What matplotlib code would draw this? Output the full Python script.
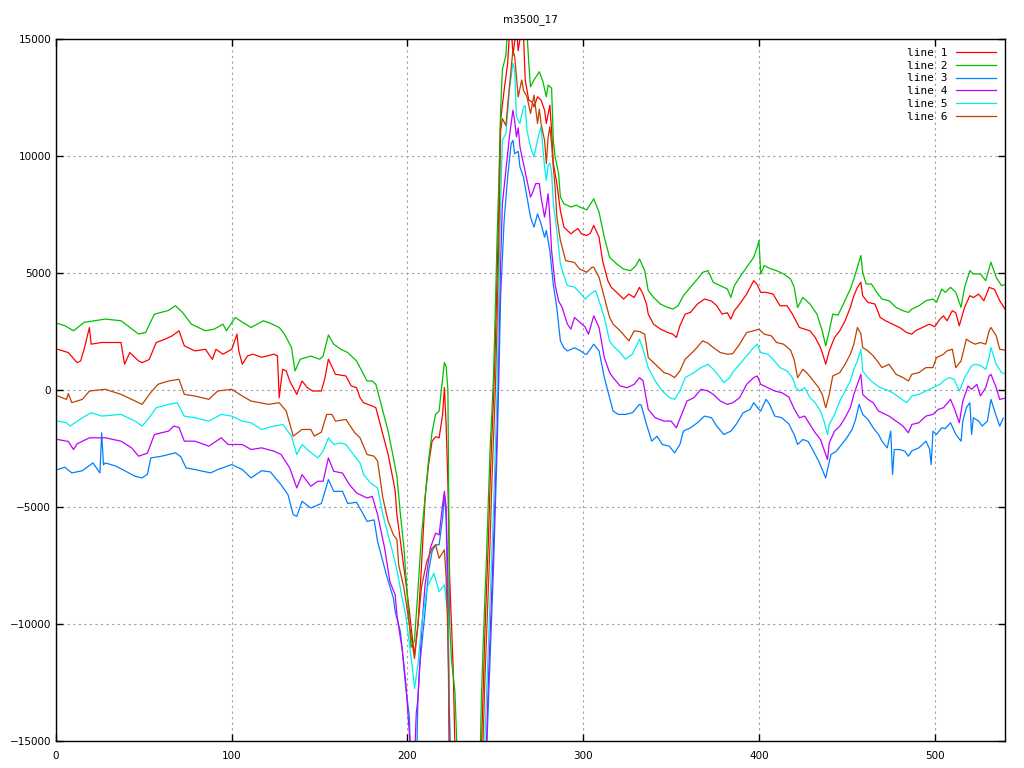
import numpy as np
import matplotlib
matplotlib.use('Agg')
import matplotlib.pyplot as plt

title = 'm3500_17'
labels = ['line 1', 'line 2', 'line 3', 'line 4', 'line 5', 'line 6']
colors = ['#ff0000', '#00c000', '#0080ff', '#c000ff', '#00eeee', '#c04000']

# (x, value) pairs; values below -15000 are off the plot
line1 = [(1,1740),(7,1600),(12,1170),(14,1240),(16,1740),(19,2670),(20,1960),(26,2030),(37,2030),
         (39,1100),(42,1600),(47,1240),(49,1170),(53,1300),(57,2030),(62,2170),(66,2310),(70,2530),
         (73,1890),(79,1670),(85,1740),(89,1310),(91,1740),(95,1530),(100,1740),(103,2390),(104,1670),
         (106,1100),(109,1457),(112,1530),(117,1400),(124,1530),(126,1460),(127,-329),(128,300),(129,886),
         (131,815),(133,385),(137,-186),(140,385),(143,100),(146,-43),(151,-43),(153,500),(155,1315),
         (157,1000),(159,672),(165,600),(168,172),(171,100),(173,-329),(175,-543),(180,-686),(182,-757),
         (185,-1615),(189,-2758),(192,-3900),(193,-4330),(194,-5330),(197,-7045),(199,-8190),(201,-9400),
         (203,-10760),(204,-11330),(206,-10000),(208,-7475),(210,-4615),(212,-3186),(214,-2186),(216,-2000),
         (218,-2043),(220,-1043),(221,100),(222,-1500),(223,-4000),(224,-8000),(225,-10000),(226,-11900),
         (227,-15300),(228,-17000),(241,-17000),(242,-15500),(243,-13000),(244,-10500),(245,-8500),
         (246,-6500),(247,-4000),(248,-2000),(249,-300),(250,2000),(251,5000),(252,8000),(253,11530),
         (255,12820),(257,13960),(258,15200),(259,15600),(260,14300),(262,15500),(263,14500),(265,15500),
         (266,15200),(267,13250),(269,12390),(271,12300),(272,12100),(274,12530),(276,12390),(278,11960),
         (279,11390),(281,12175),(282,11100),(283,9675),(285,8820),(287,7670),(289,6960),(291,6816),
         (293,6673),(295,6800),(297,6900),(299,6673),(302,6600),(304,6700),(306,7030),(309,6530),(311,5530),
         (314,4673),(316,4387),(319,4173),(323,3887),(326,4100),(329,3950),(332,4387),(334,4100),(336,3673),
         (337,3244),(340,2815),(344,2600),(348,2460),(351,2386),(353,2244),(355,2744),(358,3244),(361,3315),
         (365,3673),(369,3887),(373,3800),(376,3600),(379,3244),(382,3300),(384,3030),(386,3387),(389,3673),
         (393,4100),(397,4673),(399,4500),(401,4173),(404,4173),(408,4100),(412,3600),(416,3600),(419,3250),
         (423,2672),(426,2600),(429,2530),(432,2244),(435,1815),(436,1600),(438,1100),(440,1672),(443,2244),
         (446,2530),(449,2958),(452,3530),(454,4030),(456,4387),(458,4601),(459,4030),(462,3744),(466,3673),
         (469,3100),(472,2958),(476,2815),(480,2672),(484,2458),(487,2386),(489,2530),(493,2672),(497,2815),
         (500,2700),(503,3030),(505,3172),(507,2958),(510,3387),(512,3300),(514,2744),(517,3530),(520,4030),
         (522,3950),(525,4100),(528,3815),(531,4387),(534,4300),(537,3815),(540,3458)]

line2 = [(1,2840),(5,2750),(10,2530),(16,2890),(28,3030),(37,2960),(47,2390),(51,2460),(56,3240),
         (64,3400),(68,3600),(72,3315),(77,2815),(85,2530),(90,2600),(95,2815),(97,2530),(102,3100),
         (106,2900),(111,2670),(118,2960),(122,2850),(127,2670),(130,2390),(134,1815),(136,815),(139,1315),
         (145,1450),(150,1315),(152,1450),(155,2350),(158,1960),(162,1745),(166,1600),(171,1245),(173,958),
         (177,385),(180,385),(182,243),(185,-614),(189,-1758),(192,-2900),(194,-3700),(196,-5330),
         (198,-6760),(200,-8900),(202,-11000),(204,-10700),(206,-8500),(208,-6200),(210,-4600),(212,-3000),
         (214,-1800),(216,-1043),(218,-900),(219,-186),(221,1172),(222,1000),(223,0),(224,-10000),
         (225,-11500),(227,-12900),(228,-15050),(229,-17000),(241,-17000),(242,-13300),(243,-11000),
         (244,-9000),(245,-7000),(246,-4800),(247,-2500),(248,-1000),(249,700),(250,3500),(251,6500),
         (252,9000),(253,12000),(254,13700),(256,14300),(257,15500),(260,16500),(263,15800),(266,16000),
         (268,15300),(269,14000),(270,12960),(272,13250),(275,13600),(277,13200),(279,12530),(280,13030),
         (282,12900),(283,10670),(284,9960),(286,9250),(287,8245),(289,7960),(293,7820),(296,7900),
         (298,7820),(302,7700),(306,8170),(309,7600),(312,6530),(314,5960),(315,5670),(319,5390),(323,5170),
         (327,5100),(330,5315),(332,5600),(335,5100),(337,4245),(340,3960),(344,3670),(348,3530),(351,3460),
         (354,3600),(357,4030),(361,4390),(365,4745),(368,5030),(371,5100),(374,4600),(378,4460),(382,4315),
         (384,3960),(386,4460),(389,4815),(393,5245),(397,5670),(399,6100),(400,6390),(401,4960),(403,5315),
         (406,5200),(410,5100),(414,4960),(418,4745),(420,4400),(422,3530),(425,3958),(429,3673),(433,3244),
         (436,2530),(438,1886),(440,2530),(442,3244),(445,3200),(448,3673),(452,4316),(454,4744),(456,5245),
         (458,5745),(459,5030),(461,4530),(464,4530),(467,4173),(470,3887),(474,3815),(478,3530),(482,3387),
         (485,3315),(487,3458),(491,3600),(495,3815),(499,3887),(501,3750),(504,4316),(506,4173),(509,4387),
         (512,4173),(515,3530),(517,4387),(520,5100),(522,4958),(526,4958),(529,4673),(532,5459),(535,4816),
         (538,4459),(540,4500)]

line3 = [(1,-3400),(5,-3300),(9,-3543),(15,-3450),(21,-3115),(25,-3543),(26,-1829),(27,-3200),
         (28,-3115),(34,-3250),(39,-3450),(45,-3686),(49,-3758),(52,-3600),(54,-2900),(60,-2830),
         (64,-2758),(68,-2686),(71,-2850),(74,-3329),(79,-3400),(88,-3543),(92,-3400),(100,-3186),
         (106,-3400),(111,-3758),(117,-3450),(122,-3500),(128,-4044),(132,-4472),(135,-5330),(137,-5400),
         (140,-4758),(145,-5044),(151,-4850),(155,-3829),(158,-4330),(163,-4330),(166,-4850),(171,-4800),
         (175,-5330),(177,-5615),(181,-5550),(183,-6473),(188,-7900),(192,-8900),(193,-9475),(196,-10330),
         (199,-12700),(201,-13900),(202,-16000),(205,-16500),(206,-13000),(207,-11760),(210,-9475),
         (212,-7760),(214,-6900),(216,-6615),(218,-6615),(220,-5470),(221,-4470),(222,-5470),(223,-10000),
         (224,-17000),(244,-17000),(245,-15500),(246,-13500),(247,-11500),(248,-9500),(249,-7500),
         (250,-5000),(251,-2500),(252,500),(253,4000),(255,7245),(257,9100),(259,10530),(260,10670),
         (261,10100),(263,10200),(264,9530),(266,9100),(268,8245),(270,7390),(272,6960),(274,7530),
         (276,7100),(278,6530),(279,6816),(281,5960),(283,4500),(285,3500),(287,2100),(289,1800),(291,1670),
         (295,1800),(298,1700),(301,1530),(302,1530),(306,1958),(309,1672),(312,529),(315,-329),(317,-900),
         (320,-1043),(324,-1043),(328,-972),(332,-614),(333,-650),(336,-1472),(339,-2186),(342,-1972),
         (345,-2329),(349,-2400),(352,-2686),(355,-2329),(357,-1758),(361,-1615),(365,-1400),(369,-1115),
         (373,-1186),(376,-1543),(380,-1900),(384,-1758),(387,-1472),(391,-972),(395,-829),(397,-543),
         (400,-829),(401,-900),(404,-400),(406,-600),(409,-1115),(413,-1186),(417,-1450),(419,-1758),
         (420,-1900),(422,-2329),(423,-2258),(425,-2115),(428,-2200),(431,-2615),(434,-3044),(436,-3401),
         (438,-3758),(439,-3401),(441,-2758),(444,-2615),(447,-2329),(450,-2043),(453,-1686),(455,-1258),
         (457,-614),(459,-1043),(462,-1258),(465,-1615),(468,-1900),(470,-2186),(473,-2472),(475,-1758),
         (476,-3615),(477,-2543),(480,-2543),(483,-2615),(485,-2829),(487,-2600),(491,-2472),(495,-2186),
         (497,-2500),(498,-3186),(499,-1758),(501,-1900),(504,-1615),(506,-1650),(509,-1400),(512,-1900),
         (515,-2186),(516,-1329),(518,-757),(520,-543),(521,-1900),(522,-1186),(525,-1329),(527,-1543),
         (530,-1329),(532,-400),(535,-1115),(537,-1543),(539,-1200)]

line4 = [(1,-2115),(7,-2200),(10,-2543),(12,-2300),(19,-2043),(28,-2043),(37,-2186),(43,-2472),
         (47,-2829),(52,-2700),(56,-1900),(64,-1757),(67,-1543),(70,-1600),(73,-2186),(79,-2186),
         (87,-2400),(94,-2043),(98,-2329),(106,-2329),(111,-2543),(117,-2472),(124,-2615),(128,-2750),
         (133,-3329),(137,-4186),(140,-3615),(145,-4115),(149,-3900),(152,-3900),(155,-2900),(158,-3472),
         (163,-3550),(167,-4044),(171,-4400),(175,-4544),(177,-4615),(180,-4544),(183,-5330),(187,-6760),
         (190,-8190),(193,-8760),(194,-9620),(196,-10620),(197,-11050),(199,-12475),(201,-14620),
         (202,-15500),(204,-15800),(205,-13800),(206,-13190),(208,-10330),(210,-8330),(213,-6760),
         (216,-6115),(218,-6190),(220,-4900),(221,-4330),(222,-5000),(223,-8000),(224,-17000),(244,-17000),
         (245,-15000),(246,-12500),(247,-10500),(248,-8500),(249,-6500),(250,-4000),(251,-1500),(252,2000),
         (253,5500),(254,7960),(256,9390),(258,10820),(260,11960),(261,11500),(262,10820),(263,11200),
         (264,10390),(266,9675),(268,8960),(270,8245),(271,8400),(273,8820),(275,8820),(276,8245),(278,7390),
         (279,7820),(280,8390),(281,7400),(282,5960),(284,4500),(286,3800),(288,3530),(291,2815),(293,2600),
         (295,3100),(298,2900),(301,2700),(303,2386),(306,3170),(309,2672),(312,1386),(315,743),(317,529),
         (321,171),(325,100),(329,243),(332,529),(334,400),(337,-829),(341,-1186),(346,-1329),(350,-1329),
         (353,-1615),(356,-1043),(359,-472),(363,-329),(367,29),(371,-43),(374,-186),(378,-472),(382,-614),
         (385,-550),(389,-329),(393,243),(397,529),(399,600),(401,243),(405,100),(409,-43),(413,-114),
         (417,-300),(420,-800),(423,-1186),(426,-1115),(429,-1472),(432,-1829),(435,-2115),(437,-2543),
         (439,-2972),(440,-2258),(443,-1758),(446,-1543),(449,-1186),(452,-757),(454,-186),(456,243),
         (458,672),(459,-186),(462,-400),(465,-543),(468,-900),(470,-972),(474,-1115),(478,-1329),
         (482,-1543),(485,-1829),(487,-1472),(491,-1400),(495,-1115),(499,-1043),(502,-829),(505,-757),
         (509,-400),(511,-757),(514,-1400),(516,-472),(519,172),(521,29),(524,243),(526,-257),(529,100),
         (531,600),(532,672),(535,100),(537,-400),(540,-350)]

line5 = [(1,-1329),(6,-1400),(8,-1543),(15,-1186),(20,-970),(26,-1115),(37,-1043),(45,-1329),
         (49,-1543),(53,-1186),(57,-757),(64,-614),(69,-543),(73,-1115),(79,-1186),(87,-1329),(94,-1043),
         (100,-1115),(106,-1329),(111,-1400),(117,-1686),(124,-1543),(129,-1470),(134,-1972),(137,-2758),
         (140,-2329),(144,-2615),(149,-2900),(152,-2615),(155,-2043),(158,-2329),(162,-2260),(165,-2329),
         (170,-2829),(173,-3115),(175,-3615),(179,-3972),(183,-4186),(186,-5330),(191,-6760),(194,-7700),
         (197,-8900),(199,-9620),(201,-10800),(203,-12000),(204,-12760),(206,-11700),(208,-10050),
         (211,-8475),(215,-7830),(218,-8620),(221,-8330),(223,-9620),(224,-14000),(225,-17000),(243,-17000),
         (244,-15000),(245,-13000),(246,-11000),(247,-9000),(248,-7000),(249,-5000),(250,-2500),(251,0),
         (252,4000),(253,8000),(254,10670),(256,10960),(258,12820),(260,13960),(261,13700),(262,11675),
         (264,11390),(266,12100),(267,12150),(268,11100),(270,10390),(272,9960),(274,10700),(276,11245),
         (278,9530),(279,8960),(280,9600),(281,9700),(282,9300),(283,7960),(285,6816),(287,5390),(289,4890),
         (291,4460),(295,4400),(298,4170),(301,3887),(302,3960),(304,4100),(307,4245),(309,3815),(312,3100),
         (315,2100),(317,1886),(321,1600),(324,1315),(328,1530),(332,2172),(334,1743),(337,957),(341,386),
         (345,-43),(349,-329),(352,-400),(355,-43),(358,529),(363,743),(367,957),(371,1100),(374,886),
         (378,529),(380,314),(383,500),(385,743),(389,1100),(393,1458),(397,1815),(399,1958),(401,1600),
         (405,1530),(408,1315),(412,957),(416,815),(419,529),(421,100),(423,-43),(426,100),(429,-329),
         (432,-543),(435,-900),(437,-1329),(439,-1900),(440,-1472),(443,-1043),(446,-472),(449,-43),
         (452,386),(454,886),(456,1243),(458,1743),(459,815),(462,529),(465,314),(469,100),(472,29),
         (476,-114),(480,-329),(484,-543),(487,-257),(491,-186),(495,-43),(499,100),(503,243),(505,386),
         (508,529),(511,457),(514,-43),(517,529),(521,1029),(523,1100),(526,1050),(529,886),(531,1386),
         (532,1815),(535,1100),(538,743),(540,700)]

line6 = [(1,-257),(6,-400),(7,-150),(9,-540),(15,-400),(19,-43),(28,30),(37,-186),(43,-400),(49,-614),
         (54,-100),(58,243),(64,385),(70,457),(73,-186),(79,-257),(87,-400),(92,-43),(100,30),(106,-257),
         (111,-472),(121,-614),(127,-543),(131,-900),(135,-1972),(140,-1686),(145,-1686),(147,-1972),
         (151,-1800),(154,-1043),(157,-1043),(159,-1329),(165,-1258),(170,-1829),(173,-2043),(177,-2758),
         (181,-2829),(183,-3044),(186,-4615),(189,-5615),(192,-6190),(194,-6400),(195,-7475),(198,-8475),
         (201,-10000),(203,-11000),(204,-11475),(206,-10000),(208,-8400),(211,-7330),(214,-6760),
         (216,-6615),(218,-7190),(221,-6830),(222,-8045),(223,-10500),(224,-14500),(225,-17000),
         (242,-17000),(243,-15000),(244,-12500),(245,-10500),(246,-8500),(247,-6500),(248,-4000),
         (249,-2000),(250,0),(251,3000),(252,6500),(253,11100),(254,11600),(256,11300),(258,12960),
         (260,14530),(261,14250),(263,12530),(265,13250),(266,12800),(268,12530),(270,11820),(272,12600),
         (274,11390),(275,12000),(276,11390),(278,10670),(279,9675),(280,10800),(281,11250),(282,10500),
         (283,9500),(284,8670),(285,7390),(287,6390),(290,5530),(295,5450),(298,5170),(302,5030),
         (305,5245),(306,5245),(309,4815),(312,3960),(315,3100),(317,2815),(321,2530),(326,2100),(329,2530),
         (332,2500),(335,2386),(337,1386),(341,1100),(346,743),(349,672),(352,530),(355,815),(358,1315),
         (363,1672),(368,2100),(371,2000),(374,1815),(378,1600),(382,1530),(385,1550),(389,1958),(393,2458),
         (397,2530),(400,2600),(403,2386),(407,2315),(410,2030),(414,1958),(418,1700),(420,1300),(422,529),
         (425,886),(428,672),(431,386),(434,100),(436,-186),(438,-757),(440,-186),(442,600),(446,743),
         (449,1100),(452,1529),(454,1958),(456,2672),(458,2400),(459,1815),(462,1672),(465,1458),(468,1172),
         (470,957),(474,1100),(478,672),(482,529),(485,386),(487,672),(491,743),(495,957),(499,957),
         (501,1386),(505,1529),(507,1672),(510,1743),(512,957),(515,1243),(518,2172),(521,2030),(523,1958),
         (526,2030),(529,1958),(531,2530),(532,2672),(535,2315),(537,1743),(540,1700)]

series = [line1, line2, line3, line4, line5, line6]

fig = plt.figure(figsize=(10.24, 7.68), dpi=100)
ax = fig.add_axes([56/1024, 1 - 741/768, (1005-56)/1024, (741-39)/768])

for pts, lab, col in zip(series, labels, colors):
    arr = np.array(pts, dtype=float)
    ax.plot(arr[:, 0], arr[:, 1], color=col, lw=0.9, label=lab)

ax.set_xlim(0, 540)
ax.set_ylim(-15000, 15000)
ax.set_xticks(np.arange(0, 501, 100))
ax.set_yticks(np.arange(-15000, 15001, 5000))
ax.grid(True, color='#a0a0a0', linestyle=(0, (2, 3)), lw=0.8)
ax.tick_params(direction='in', length=5, width=1, top=True, right=True, labelsize=7.5)
ax.tick_params(axis='x', pad=7)
for s in ax.spines.values():
    s.set_linewidth(1)
ax.set_title(title, fontsize=7.5, pad=12)

leg = ax.legend(loc='upper right', frameon=False, markerfirst=False,
                prop={'family': 'DejaVu Sans Mono', 'size': 8},
                handlelength=3.6, labelspacing=0.25, borderaxespad=0.4)

fig.savefig('out.png', dpi=100)
